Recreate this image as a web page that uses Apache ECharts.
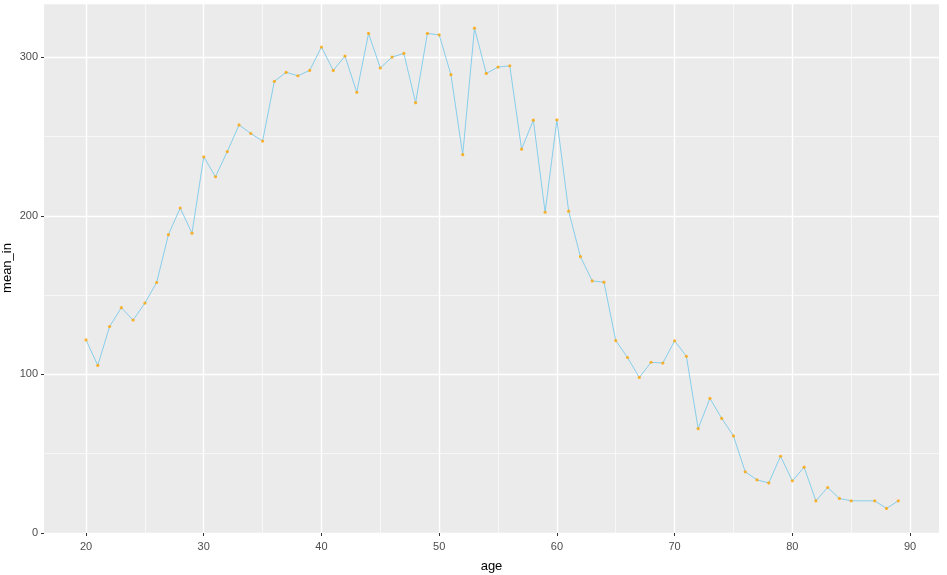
<!DOCTYPE html>
<html>
<head>
<meta charset="utf-8">
<script src="https://cdn.jsdelivr.net/npm/echarts@6/dist/echarts.min.js"></script>
<style>html,body{margin:0;padding:0;background:#fff}#c{width:947px;height:575px}</style>
</head>
<body>
<div id="c"></div>
<script>
const ages = [20,21,22,23,24,25,26,27,28,29,30,31,32,33,34,35,36,37,38,39,40,41,42,43,44,45,46,47,48,49,50,51,52,53,54,55,56,57,58,59,60,61,62,63,64,65,66,67,68,69,70,71,72,73,74,75,76,77,78,79,80,81,82,83,84,85,87,88,89];
const meanIn = [121.8,105.7,130.2,142.1,134.3,145.0,158.0,188.2,205.0,189.1,237.3,224.7,240.6,257.4,252.0,247.2,284.9,290.6,288.4,291.8,306.5,291.8,300.8,278.0,315.1,293.3,300.2,302.5,271.4,315.1,314.2,289.1,238.6,318.4,289.9,293.9,294.7,242.1,260.4,202.3,260.6,203.0,174.3,159.0,158.2,121.4,110.7,98.1,107.7,107.2,121.2,111.5,65.8,84.9,72.3,61.2,38.6,33.5,31.6,48.4,32.9,41.5,20.3,28.7,21.8,20.3,20.3,15.5,20.3];
const xMajorTicks = [20,30,40,50,60,70,80,90];
const xMinorTicks = [25,35,45,55,65,75,85];
const xTitle = 'age';
const yTitle = 'mean_in';

const pairs = ages.map((a, i) => [a, meanIn[i]]);
const chart = echarts.init(document.getElementById('c'), null, {renderer: 'canvas'});
const XMIN = 16.43, XMAX = 92.46, YMAX = 334.3;
const lab = {color: '#4D4D4D', fontSize: 11, fontFamily: 'Liberation Sans, Arial, sans-serif'};
chart.setOption({
  animation: false,
  grid: {left: 44, right: 8, top: 3, bottom: 42, show: true, backgroundColor: '#EBEBEB', borderWidth: 0,
         containLabel: false, outerBoundsMode: 'none'},
  xAxis: [
    {type: 'value', min: XMIN, max: XMAX, position: 'bottom',
     name: xTitle, nameLocation: 'middle', nameGap: 27, nameMoveOverlap: false,
     nameTextStyle: {color: '#000', fontSize: 13, fontFamily: 'Liberation Sans, Arial, sans-serif'},
     axisLine: {show: false},
     axisTick: {show: true, length: 3, customValues: xMajorTicks, lineStyle: {color: '#333', width: 1}},
     axisLabel: Object.assign({margin: 8, customValues: xMajorTicks}, lab),
     splitLine: {show: true, lineStyle: {color: '#fff', width: 1.4}},
     z: 3},
    {type: 'value', min: XMIN, max: XMAX, position: 'bottom',
     axisLine: {show: false}, axisTick: {show: false, customValues: xMinorTicks},
     axisLabel: {show: false, customValues: xMinorTicks},
     splitLine: {show: true, lineStyle: {color: '#fff', width: 0.6}},
     z: 2}
  ],
  yAxis: [
    {type: 'value', min: 0, max: YMAX, interval: 100,
     name: yTitle, nameLocation: 'middle', nameGap: 30, nameRotate: 90, nameMoveOverlap: false,
     nameTextStyle: {color: '#000', fontSize: 13, fontFamily: 'Liberation Sans, Arial, sans-serif'},
     axisLine: {show: false},
     axisTick: {show: true, length: 3, lineStyle: {color: '#333', width: 1}},
     axisLabel: Object.assign({margin: 6, showMaxLabel: false}, lab),
     splitLine: {show: true, lineStyle: {color: '#fff', width: 1.4}},
     z: 3},
    {type: 'value', min: 0, max: YMAX, interval: 50,
     axisLine: {show: false}, axisTick: {show: false}, axisLabel: {show: false},
     splitLine: {show: true, lineStyle: {color: '#fff', width: 0.6}},
     z: 2}
  ],
  series: [
    {type: 'line', xAxisIndex: 0, yAxisIndex: 0, data: pairs,
     showSymbol: false, symbol: 'none',
     lineStyle: {color: '#87CEEB', width: 1}, z: 5},
    {type: 'scatter', xAxisIndex: 0, yAxisIndex: 0, data: pairs,
     symbol: 'circle', symbolSize: 3.2,
     itemStyle: {color: '#FFA500'}, z: 6}
  ]
});
</script>
</body>
</html>
